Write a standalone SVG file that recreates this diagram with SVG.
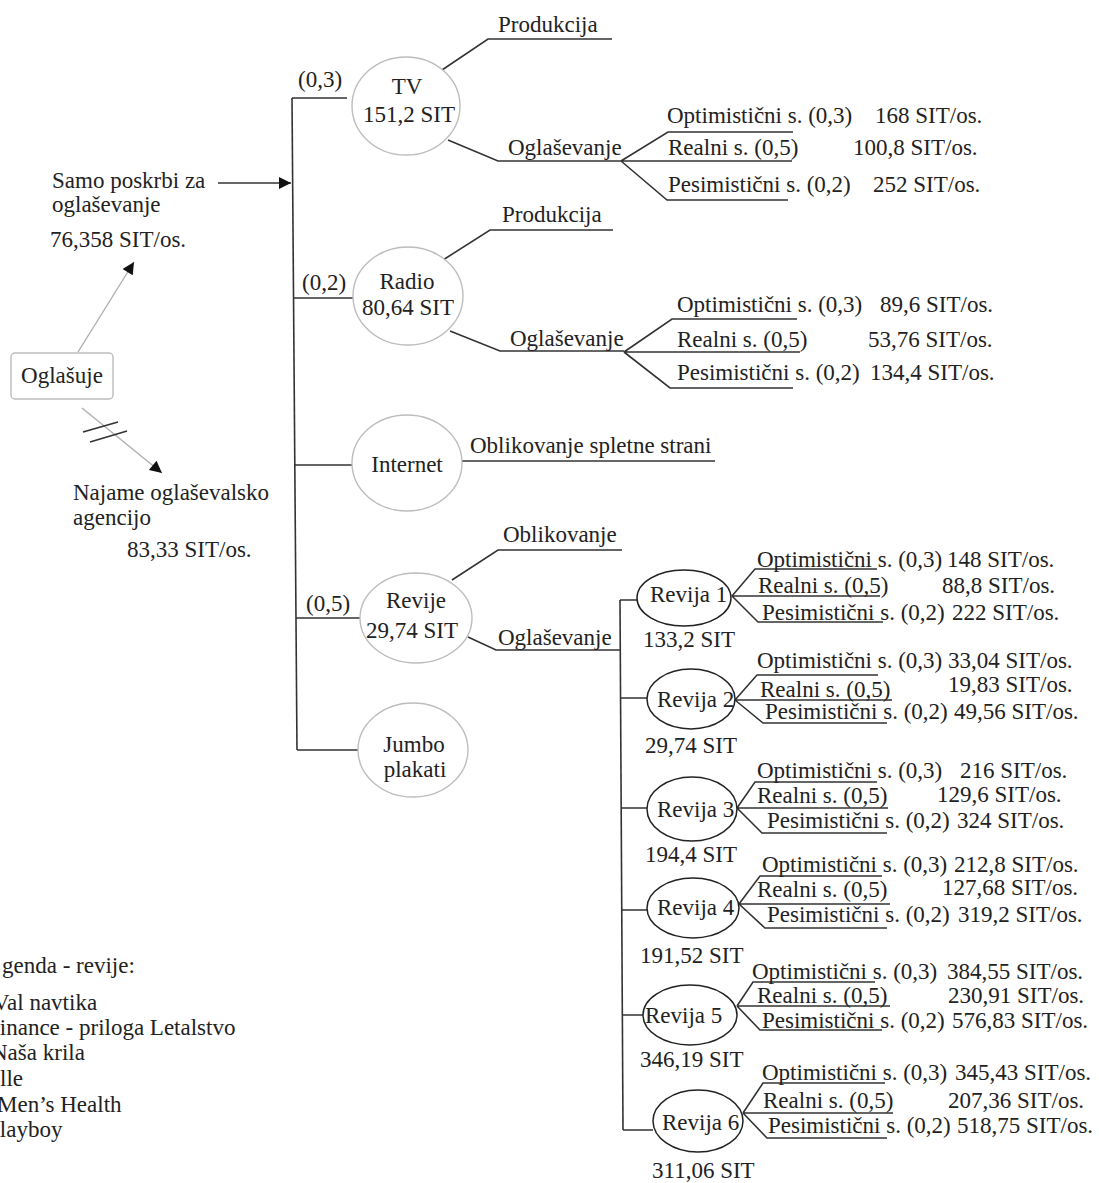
<svg xmlns="http://www.w3.org/2000/svg" width="1099" height="1183" viewBox="0 0 1099 1183">
<defs>
<style>
.t{font-family:"Liberation Serif","Times New Roman",serif;font-size:23px;fill:#222}
.m{text-anchor:middle}
.ln{stroke:#333;stroke-width:1.6;fill:none}
.gl{stroke:#b0b0b0;stroke-width:1.4;fill:none}
.e1{fill:#fff;stroke:#bdbdbd;stroke-width:1.4}
.e2{fill:#fff;stroke:#222;stroke-width:1.5}
</style>
<marker id="ah" viewBox="0 0 10 10" refX="10" refY="5" markerWidth="16" markerHeight="12" markerUnits="userSpaceOnUse" orient="auto"><path d="M0,0 L10,5 L0,10 z" fill="#111"/></marker>
</defs>
<rect width="1099" height="1183" fill="#fff"/>

<g id="connectors">
<line class="ln" x1="218" y1="183" x2="291" y2="183" marker-end="url(#ah)"/>
<line class="gl" x1="78" y1="352" x2="134" y2="262" marker-end="url(#ah)"/>
<line class="gl" x1="82" y1="408" x2="162" y2="473" marker-end="url(#ah)"/>
<line class="ln" x1="83" y1="432" x2="118" y2="422" stroke-width="1.3"/>
<line class="ln" x1="90" y1="442" x2="127" y2="431" stroke-width="1.3"/>
<path class="ln" d="M292,98 L297,750"/>
<path class="ln" d="M292,98 H347 M293,298 H353 M295,465 H352 M296,618 H360 M297,750 H358"/>
<polyline class="ln" points="442,70 488,39 612,39"/>
<polyline class="ln" points="448,140 498,161 621,161"/>
<path class="ln" d="M621,161 L668,132 H793 M621,161 H792 M621,161 L667,200 H788"/>
<polyline class="ln" points="443,260 490,230 613,230"/>
<polyline class="ln" points="450,331 500,351 624,351"/>
<path class="ln" d="M624,352 L672,319 H797 M624,352 H800 M624,352 L670,388 H793"/>
<line class="ln" x1="462" y1="461" x2="715" y2="461"/>
<polyline class="ln" points="452,580 498,550 622,550"/>
<polyline class="ln" points="468,637 496,650 620,650"/>
<path class="ln" d="M620,600 L623,1130"/>
<path class="ln" d="M620,600 H638 M620,698 H647 M621,808 H647 M622,910 H647 M623,1015 H643 M623,1130 H653"/>
<path class="ln" d="M732,596 L755,569 H877 M732,596 H880 M732,596 L758,622 H883"/>
<path class="ln" d="M735,700 L757,675 H878 M735,700 H892 M735,700 L763,723 H887"/>
<path class="ln" d="M737,808 L755,782 H877 M737,808 H888 M737,808 L762,833 H887"/>
<path class="ln" d="M739,904 L760,876 H882 M739,904 H890 M739,904 L765,928 H887"/>
<path class="ln" d="M737,1006 L753,982 H875 M737,1006 H890 M737,1006 L760,1030 H882"/>
<path class="ln" d="M743,1113 L763,1083 H885 M743,1113 H893 M743,1113 L767,1138 H887"/>
</g>

<g id="left-texts">
<text class="t" x="52" y="188">Samo poskrbi za</text>
<text class="t" x="52" y="212">oglaševanje</text>
<text class="t" x="50" y="247">76,358 SIT/os.</text>
<text class="t" x="73" y="500">Najame oglaševalsko</text>
<text class="t" x="73" y="525">agencijo</text>
<text class="t" x="127" y="557">83,33 SIT/os.</text>
</g>

<g id="node-oglasuje">
<rect x="11" y="353" width="102" height="46" rx="4" fill="#fff" stroke="#bdbdbd" stroke-width="1.4"/>
<text class="t m" x="62" y="383">Oglašuje</text>
</g>

<g id="node-tv">
<ellipse class="e1" cx="406" cy="106" rx="54" ry="49"/>
<text class="t m" x="407" y="94">TV</text>
<text class="t m" x="409" y="122">151,2 SIT</text>
<text class="t" x="298" y="87">(0,3)</text>
<text class="t" x="498" y="32">Produkcija</text>
<text class="t" x="508" y="155">Oglaševanje</text>
<text class="t" x="667" y="123">Optimistični s. (0,3)</text>
<text class="t" x="875" y="123">168  SIT/os.</text>
<text class="t" x="668" y="155">Realni s. (0,5)</text>
<text class="t" x="853" y="155">100,8 SIT/os.</text>
<text class="t" x="668" y="192">Pesimistični s. (0,2)</text>
<text class="t" x="873" y="192">252 SIT/os.</text>
</g>

<g id="node-radio">
<ellipse class="e1" cx="408" cy="296" rx="55" ry="49"/>
<text class="t m" x="407" y="289">Radio</text>
<text class="t m" x="408" y="315">80,64 SIT</text>
<text class="t" x="302" y="290">(0,2)</text>
<text class="t" x="502" y="222">Produkcija</text>
<text class="t" x="510" y="346">Oglaševanje</text>
<text class="t" x="677" y="312">Optimistični s. (0,3)</text>
<text class="t" x="880" y="312">89,6 SIT/os.</text>
<text class="t" x="677" y="347">Realni s. (0,5)</text>
<text class="t" x="868" y="347">53,76 SIT/os.</text>
<text class="t" x="677" y="380">Pesimistični s. (0,2)</text>
<text class="t" x="870" y="380">134,4 SIT/os.</text>
</g>

<g id="node-internet">
<ellipse class="e1" cx="407" cy="463" rx="55" ry="48"/>
<text class="t m" x="407" y="472">Internet</text>
<text class="t" x="470" y="453">Oblikovanje spletne strani</text>
</g>

<g id="node-revije">
<ellipse class="e1" cx="416" cy="618" rx="56" ry="45"/>
<text class="t m" x="416" y="608">Revije</text>
<text class="t m" x="412" y="638">29,74 SIT</text>
<text class="t" x="306" y="611">(0,5)</text>
<text class="t" x="503" y="542">Oblikovanje</text>
<text class="t" x="498" y="645">Oglaševanje</text>
</g>

<g id="node-jumbo">
<ellipse class="e1" cx="413" cy="750" rx="55" ry="47"/>
<text class="t m" x="414" y="752">Jumbo</text>
<text class="t m" x="415" y="777">plakati</text>
</g>

<g id="node-revija1">
<ellipse class="e2" cx="684" cy="598" rx="47" ry="28"/>
<text class="t" x="650" y="602">Revija 1</text>
<text class="t" x="643" y="647">133,2 SIT</text>
<text class="t" x="757" y="567">Optimistični s. (0,3)</text>
<text class="t" x="947" y="567">148 SIT/os.</text>
<text class="t" x="758" y="593">Realni s. (0,5)</text>
<text class="t" x="942" y="593">88,8 SIT/os.</text>
<text class="t" x="762" y="620">Pesimistični s. (0,2)</text>
<text class="t" x="952" y="620">222 SIT/os.</text>
</g>

<g id="node-revija2">
<ellipse class="e2" cx="691" cy="699" rx="44" ry="30"/>
<text class="t" x="657" y="707">Revija 2</text>
<text class="t" x="645" y="753">29,74 SIT</text>
<text class="t" x="757" y="668">Optimistični s. (0,3)</text>
<text class="t" x="948" y="668">33,04 SIT/os.</text>
<text class="t" x="760" y="697">Realni s. (0,5)</text>
<text class="t" x="948" y="692">19,83 SIT/os.</text>
<text class="t" x="765" y="719">Pesimistični s. (0,2)</text>
<text class="t" x="954" y="719">49,56 SIT/os.</text>
</g>

<g id="node-revija3">
<ellipse class="e2" cx="692" cy="809" rx="45" ry="32"/>
<text class="t" x="657" y="817">Revija 3</text>
<text class="t" x="645" y="862">194,4 SIT</text>
<text class="t" x="757" y="778">Optimistični s. (0,3)</text>
<text class="t" x="960" y="778">216 SIT/os.</text>
<text class="t" x="757" y="803">Realni s. (0,5)</text>
<text class="t" x="937" y="802">129,6 SIT/os.</text>
<text class="t" x="767" y="828">Pesimistični s. (0,2)</text>
<text class="t" x="957" y="828">324 SIT/os.</text>
</g>

<g id="node-revija4">
<ellipse class="e2" cx="693" cy="908" rx="46" ry="30"/>
<text class="t" x="657" y="915">Revija 4</text>
<text class="t" x="640" y="963">191,52 SIT</text>
<text class="t" x="762" y="872">Optimistični s. (0,3)</text>
<text class="t" x="954" y="872">212,8 SIT/os.</text>
<text class="t" x="757" y="897">Realni s. (0,5)</text>
<text class="t" x="942" y="895">127,68 SIT/os.</text>
<text class="t" x="767" y="922">Pesimistični s. (0,2)</text>
<text class="t" x="958" y="922">319,2 SIT/os.</text>
</g>

<g id="node-revija5">
<ellipse class="e2" cx="690" cy="1015" rx="47" ry="30"/>
<text class="t" x="645" y="1023">Revija 5</text>
<text class="t" x="640" y="1067">346,19 SIT</text>
<text class="t" x="752" y="979">Optimistični s. (0,3)</text>
<text class="t" x="947" y="979">384,55 SIT/os.</text>
<text class="t" x="757" y="1003">Realni s. (0,5)</text>
<text class="t" x="948" y="1003">230,91 SIT/os.</text>
<text class="t" x="762" y="1028">Pesimistični s. (0,2)</text>
<text class="t" x="952" y="1028">576,83 SIT/os.</text>
</g>

<g id="node-revija6">
<ellipse class="e2" cx="698" cy="1121" rx="45" ry="31"/>
<text class="t" x="662" y="1130">Revija 6</text>
<text class="t" x="652" y="1178">311,06 SIT</text>
<text class="t" x="762" y="1080">Optimistični s. (0,3)</text>
<text class="t" x="955" y="1080">345,43 SIT/os.</text>
<text class="t" x="763" y="1108">Realni s. (0,5)</text>
<text class="t" x="948" y="1108">207,36 SIT/os.</text>
<text class="t" x="768" y="1133">Pesimistični s. (0,2)</text>
<text class="t" x="957" y="1133">518,75 SIT/os.</text>
</g>

<g id="legend">
<text class="t" x="2" y="973">genda - revije:</text>
<text class="t" x="-7" y="1010">Val navtika</text>
<text class="t" x="-13" y="1035">Finance - priloga Letalstvo</text>
<text class="t" x="-9" y="1060">Naša krila</text>
<text class="t" x="-14" y="1086">Elle</text>
<text class="t" x="-3" y="1112">Men’s Health</text>
<text class="t" x="-13" y="1137">Playboy</text>
</g>
</svg>
